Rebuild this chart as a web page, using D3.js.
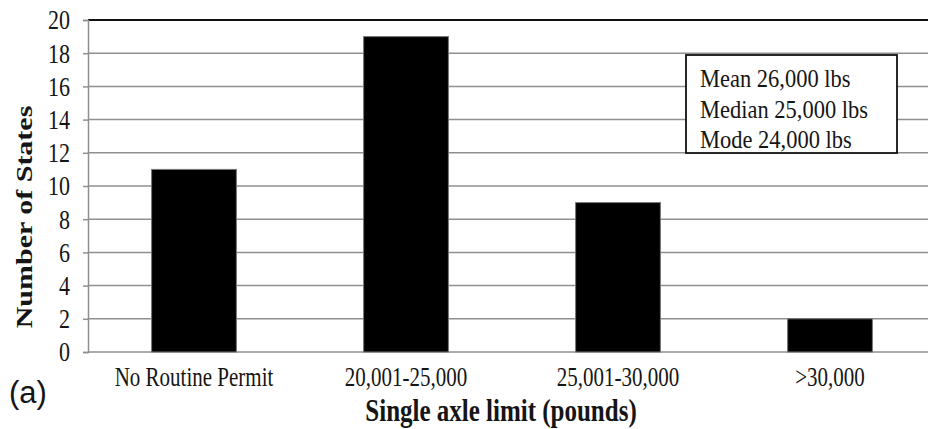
<!DOCTYPE html>
<html>
<head>
<meta charset="utf-8">
<script src="https://cdn.jsdelivr.net/npm/d3@7"></script>
<style>
  html, body { margin: 0; padding: 0; background: #fff; }
  svg { display: block; }
</style>
</head>
<body>
<svg id="chart" width="928" height="429"></svg>
<script>
const categories = ["No Routine Permit", "20,001-25,000", "25,001-30,000", ">30,000"];
const values = [11, 19, 9, 2];
const yTicks = [0, 2, 4, 6, 8, 10, 12, 14, 16, 18, 20];
const statsLines = ["Mean 26,000 lbs", "Median 25,000 lbs", "Mode 24,000 lbs"];
const xTitle = "Single axle limit (pounds)";
const yTitle = "Number of  States";
const panelLabel = "(a)";

const SERIF = "Liberation Serif";
const svg = d3.select("#chart");
const plotLeft = 88, plotRight = 936, plotTop = 20, plotBottom = 352;
const SY = 1.25;

const x = d3.scaleBand().domain(categories).range([plotLeft, plotRight]).paddingInner(0.6).paddingOuter(0.3);
const y = d3.scaleLinear().domain([0, 20]).range([plotBottom, plotTop]);

// gridlines
svg.append("g").selectAll("line").data(yTicks).join("line")
  .attr("x1", plotLeft).attr("x2", 928)
  .attr("y1", d => y(d)).attr("y2", d => y(d))
  .attr("stroke", d => d === 20 ? "#111" : "#8f8f8f")
  .attr("stroke-width", d => d === 20 ? 2 : 1.5);

// bars
svg.append("g").selectAll("rect").data(values).join("rect")
  .attr("x", (d, i) => x(categories[i]))
  .attr("width", x.bandwidth())
  .attr("y", d => y(d))
  .attr("height", d => y(0) - y(d))
  .attr("fill", "#000")
  .attr("stroke", "#777").attr("stroke-width", 1);

// y axis
const yAxis = svg.append("g").attr("transform", `translate(${plotLeft},0)`)
  .call(d3.axisLeft(y).tickValues(yTicks).tickSize(5).tickPadding(0).tickFormat(d3.format("d")));
yAxis.attr("font-family", SERIF);
yAxis.select(".domain").attr("stroke", "#8f8f8f").attr("stroke-width", 1.5);
yAxis.selectAll(".tick line").attr("stroke", "#8f8f8f").attr("stroke-width", 1.5);
yAxis.selectAll(".tick text")
  .attr("x", -18).attr("dy", "0.32em")
  .attr("transform", `scale(1,${SY})`)
  .attr("font-family", SERIF).attr("font-size", 22).attr("fill", "#151515");

// x axis
const xAxis = svg.append("g").attr("transform", `translate(0,${plotBottom})`)
  .call(d3.axisBottom(x).tickSize(0).tickPadding(0));
xAxis.attr("font-family", SERIF);
xAxis.select(".domain").remove();
xAxis.selectAll(".tick text")
  .attr("y", 34 / SY).attr("dy", "0")
  .attr("transform", `scale(1,${SY})`)
  .attr("font-family", SERIF).attr("font-size", 21).attr("fill", "#151515");

// stats box
svg.append("rect").attr("x", 686).attr("y", 55).attr("width", 211).attr("height", 98)
  .attr("fill", "#fff").attr("stroke", "#111").attr("stroke-width", 1.8);
svg.append("g").selectAll("text").data(statsLines).join("text")
  .attr("transform", (d, i) => `translate(700,${87 + i * 30.5}) scale(1,1.12)`)
  .attr("font-family", SERIF).attr("font-size", 22.5).attr("fill", "#151515")
  .text(d => d);

// axis titles
svg.append("text")
  .attr("transform", `translate(501,421) scale(1,${SY})`)
  .attr("text-anchor", "middle")
  .attr("font-family", SERIF).attr("font-size", 25).attr("font-weight", "bold").attr("fill", "#151515")
  .text(xTitle);

svg.append("text")
  .attr("transform", `translate(32,217) rotate(-90) scale(${SY},1)`)
  .attr("text-anchor", "middle")
  .attr("font-family", SERIF).attr("font-size", 24).attr("font-weight", "bold").attr("fill", "#151515")
  .text(yTitle);

svg.append("text")
  .attr("x", 9).attr("y", 403)
  .attr("font-family", "Liberation Sans").attr("font-size", 31).attr("fill", "#151515")
  .text(panelLabel);
</script>
</body>
</html>
